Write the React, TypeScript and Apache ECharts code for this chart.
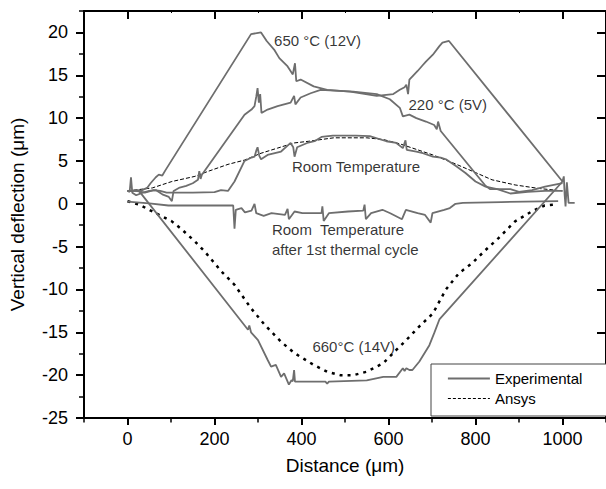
import React, { useEffect, useRef } from "react";
import * as echarts from "echarts";

// ---- Data (distance in µm, deflection in µm) ----
const exp650: number[][] = [
  [0, 1.5], [30, 1.5], [45, 1.85], [53, 2.4], [65, 3.1], [72, 3.4], [80, 3.3], [87, 3.9],
  [284, 19.8], [307, 20.0], [320, 19.0], [337, 18.0], [349, 17.0], [367, 16.1], [380, 15.1],
  [385, 16.4], [388, 14.3], [398, 14.5], [428, 13.7], [459, 13.3], [512, 13.1], [573, 12.6],
  [611, 12.8], [626, 13.3], [637, 13.6], [641, 13.9], [645, 12.8], [648, 14.5], [667, 15.5],
  [679, 16.2], [686, 16.6], [702, 17.4], [717, 18.4], [724, 18.8], [739, 19.0],
  [1000, 2.6], [1003, 3.2], [1005, 1.0], [1007, -0.3], [1010, 2.5], [1014, 0.1], [1028, 0.1],
];

const exp220: number[][] = [
  [0, 1.5], [5, 1.4], [8, 3.1], [11, 1.3], [20, 1.0], [35, 1.3], [50, 1.5], [65, 1.6],
  [80, 1.1], [95, 0.8], [102, 0.3], [106, 1.5], [120, 1.9], [135, 2.1], [150, 2.4],
  [162, 2.8], [165, 3.8], [168, 2.9], [171, 3.4], [269, 10.4], [285, 11.0], [292, 11.4],
  [296, 12.5], [299, 13.5], [302, 11.8], [305, 12.8], [308, 10.6], [322, 11.0], [345, 11.4],
  [375, 11.8], [383, 12.6], [386, 11.6], [398, 12.4], [421, 12.9], [444, 13.3], [519, 13.1],
  [573, 12.8], [603, 12.2], [626, 11.2], [633, 10.2], [648, 10.4], [664, 10.0], [686, 9.6],
  [705, 9.2], [711, 8.7], [714, 9.6], [720, 8.5], [823, 2.1], [834, 1.7], [880, 1.7],
  [900, 1.4], [930, 1.6], [960, 2.0], [1000, 2.4],
];

const expRoom: number[][] = [
  [0, 1.5], [20, 1.5], [40, 1.3], [60, 1.6], [75, 1.5], [90, 1.3], [106, 1.3], [150, 1.3],
  [200, 1.35], [215, 1.6], [231, 1.5], [246, 2.6], [269, 5.0], [285, 5.4], [292, 5.5],
  [296, 6.2], [299, 6.6], [303, 5.6], [307, 5.2], [322, 5.7], [353, 6.1], [375, 7.1],
  [381, 6.6], [384, 5.5], [390, 6.6], [413, 7.1], [430, 7.3], [446, 7.8], [472, 7.95],
  [525, 7.95], [557, 7.9], [595, 7.3], [618, 7.1], [633, 6.5], [639, 7.4], [642, 6.3],
  [664, 6.1], [679, 5.9], [702, 5.5], [720, 5.4], [732, 5.2], [755, 4.4], [777, 3.6],
  [800, 2.6], [823, 2.0], [850, 1.7], [880, 1.2], [920, 1.4], [960, 1.5], [1000, 1.5],
];

const ansysRoom: number[][] = [
  [0, 1.5], [57, 1.85], [102, 2.6], [155, 3.2], [186, 3.8], [231, 4.6], [269, 5.1],
  [307, 5.9], [345, 6.5], [383, 7.1], [417, 7.3], [474, 7.7], [550, 7.7], [588, 7.5],
  [626, 7.0], [702, 5.7], [747, 4.8], [793, 3.8], [838, 2.8], [891, 2.2], [944, 1.8],
  [1000, 1.5],
];

const expAfterCycle: number[][] = [
  [0, 0.25], [50, 0.05], [94, -0.2], [243, -0.2], [246, -2.9], [249, -0.7], [262, -0.5],
  [270, -1.0], [285, -0.8], [292, 0.0], [296, -1.1], [313, -1.4], [331, -1.1], [362, -1.3],
  [368, -0.6], [371, -1.8], [384, -0.9], [402, -1.1], [446, -1.1], [448, -0.3], [451, -2.0],
  [463, -1.1], [507, -0.9], [542, -0.8], [545, -0.1], [548, -1.8], [560, -1.1], [586, -0.7],
  [604, -1.1], [631, -1.8], [640, -0.7], [667, -1.1], [684, -1.3], [697, -2.2], [701, -1.1],
  [728, -0.7], [741, -0.5], [754, 0.0], [771, 0.1], [859, 0.2], [990, 0.3],
];

const exp660: number[][] = [
  [0, 1.5], [25, 1.6], [277, -14.7], [280, -14.2], [284, -15.0], [300, -15.9], [322, -18.2],
  [330, -19.0], [341, -18.8], [353, -20.2], [360, -19.8], [371, -21.1], [377, -20.6],
  [380, -20.7], [383, -19.4], [385, -20.75], [455, -20.75], [459, -21.0], [463, -20.75],
  [550, -20.6], [588, -20.2], [618, -20.2], [633, -19.2], [637, -19.5], [641, -19.2],
  [648, -19.4], [655, -19.4], [671, -18.4], [694, -16.5], [705, -15.1], [717, -13.5],
  [1000, 2.6],
];

const ansys660: number[][] = [
  [0, 0.3], [27, -0.1], [64, -1.07], [102, -2.05], [125, -3.0], [155, -4.4], [178, -5.6],
  [216, -7.9], [246, -9.45], [284, -12.2], [315, -14.1], [353, -16.1], [383, -17.4],
  [428, -18.8], [459, -19.6], [489, -20.0], [519, -20.0], [550, -19.6], [588, -18.6],
  [618, -17.05], [641, -15.9], [671, -14.3], [702, -12.8], [732, -10.0], [762, -8.1],
  [793, -6.9], [823, -5.4], [853, -4.0], [891, -2.05], [929, -0.9], [959, -0.2], [980, -0.1],
];

const annotationTexts = [
  "650 °C (12V)",
  "220 °C (5V)",
  "Room Temperature",
  "Room  Temperature",
  "after 1st thermal cycle",
  "660°C (14V)",
];
const annotationAnchors: number[][] = [
  [337, 19.0], [646, 11.6], [378, 4.34], [332, -3.0], [332, -5.36], [425, -16.7],
];

const xMajorTicks = [0, 200, 400, 600, 800, 1000];
const xMinorTicks = [-100, 100, 300, 500, 700, 900, 1100];
const yMajorTicks = [-25, -20, -15, -10, -5, 0, 5, 10, 15, 20];
const yMinorTicks = [-22.5, -17.5, -12.5, -7.5, -2.5, 2.5, 7.5, 12.5, 17.5, 22.5];

const X_MIN = -100;
const X_MAX = 1100;
const Y_MIN = -25;
const Y_MAX = 22.5;

const FONT = "'Liberation Sans', Arial, Helvetica, sans-serif";
const EXP_COLOR = "#6e6e6e";

export default function App() {
  const ref = useRef<HTMLDivElement>(null);

  useEffect(() => {
    document.body.style.margin = "0";
    if (!ref.current) return;
    const chart = echarts.init(ref.current, undefined, { renderer: "svg" });

    const axisLineStyle = { color: "#000", width: 2 };
    const hiddenLabel = { show: false };
    const noSplit = { show: false };
    const plainNumber = (v: number) => String(v);

    const expLine = (data: number[][]) => ({
      type: "line",
      name: "Experimental",
      data,
      showSymbol: false,
      symbol: "none",
      lineStyle: { color: EXP_COLOR, width: 1.8 },
      itemStyle: { color: EXP_COLOR },
      z: 3,
    });

    const option: any = {
      animation: false,
      backgroundColor: "#fff",
      grid: { left: 82, top: 11, width: 526, height: 407, containLabel: false },
      xAxis: [
        {
          type: "value",
          position: "bottom",
          min: X_MIN,
          max: X_MAX,
          axisLine: { onZero: false, lineStyle: axisLineStyle },
          axisTick: { customValues: xMajorTicks, length: 7, lineStyle: { color: "#000", width: 2 } },
          axisLabel: { customValues: xMajorTicks, formatter: plainNumber, fontSize: 18, color: "#000", margin: 12, fontFamily: FONT },
          splitLine: noSplit,
          name: "Distance (μm)",
          nameLocation: "middle",
          nameGap: 38,
          nameTextStyle: { fontSize: 19, color: "#000", fontFamily: FONT },
        },
        {
          type: "value",
          position: "bottom",
          min: X_MIN,
          max: X_MAX,
          axisLine: { show: false, onZero: false },
          axisTick: { customValues: xMinorTicks, length: 4.5, lineStyle: { color: "#000", width: 1.5 } },
          axisLabel: hiddenLabel,
          splitLine: noSplit,
        },
        {
          type: "value",
          position: "top",
          min: X_MIN,
          max: X_MAX,
          axisLine: { onZero: false, lineStyle: axisLineStyle },
          axisTick: { customValues: xMajorTicks, inside: true, length: 8, lineStyle: { color: "#000", width: 2 } },
          axisLabel: hiddenLabel,
          splitLine: noSplit,
        },
        {
          type: "value",
          position: "top",
          min: X_MIN,
          max: X_MAX,
          axisLine: { show: false, onZero: false },
          axisTick: { customValues: xMinorTicks, inside: true, length: 2, lineStyle: { color: "#000", width: 1 } },
          axisLabel: hiddenLabel,
          splitLine: noSplit,
        },
      ],
      yAxis: [
        {
          type: "value",
          position: "left",
          min: Y_MIN,
          max: Y_MAX,
          axisLine: { onZero: false, lineStyle: axisLineStyle },
          axisTick: { customValues: yMajorTicks, length: 8, lineStyle: { color: "#000", width: 2 } },
          axisLabel: { customValues: yMajorTicks, formatter: plainNumber, fontSize: 18, color: "#000", margin: 16, fontFamily: FONT },
          splitLine: noSplit,
          name: "Vertical deflection (μm)",
          nameLocation: "middle",
          nameGap: 57,
          nameTextStyle: { fontSize: 19, color: "#000", fontFamily: FONT },
        },
        {
          type: "value",
          position: "left",
          min: Y_MIN,
          max: Y_MAX,
          axisLine: { show: false, onZero: false },
          axisTick: { customValues: yMinorTicks, length: 5, lineStyle: { color: "#000", width: 1.5 } },
          axisLabel: hiddenLabel,
          splitLine: noSplit,
        },
        {
          type: "value",
          position: "right",
          min: Y_MIN,
          max: Y_MAX,
          axisLine: { onZero: false, lineStyle: axisLineStyle },
          axisTick: { customValues: yMajorTicks, inside: true, length: 9, lineStyle: { color: "#000", width: 2 } },
          axisLabel: hiddenLabel,
          splitLine: noSplit,
        },
      ],
      legend: {
        data: [
          {
            name: "Experimental",
            itemStyle: { opacity: 0, color: "transparent", borderWidth: 0 },
            lineStyle: { color: EXP_COLOR, width: 1.8, type: "solid" },
          },
          {
            name: "Ansys",
            itemStyle: { opacity: 0, color: "transparent", borderWidth: 0 },
            lineStyle: { color: "#000", width: 1, type: [3, 2] },
          },
        ],
        left: 431,
        top: 364,
        orient: "vertical",
        padding: [7, 40, 10, 16],
        itemWidth: 42,
        itemHeight: 14,
        itemGap: 5,
        borderColor: "#444",
        borderWidth: 1,
        backgroundColor: "#fff",
        itemStyle: { opacity: 0, color: "transparent", borderWidth: 0 },
        textStyle: { fontSize: 15, color: "#000", fontFamily: FONT },
        selectedMode: false,
      },
      series: [
        {
          type: "line",
          name: "Ansys",
          data: ansysRoom,
          showSymbol: false,
          symbol: "none",
          lineStyle: { color: "#000", width: 1, type: [4, 2] },
          itemStyle: { color: "#000" },
          z: 2,
        },
        {
          type: "line",
          name: "Ansys",
          data: ansys660,
          showSymbol: false,
          symbol: "none",
          lineStyle: { color: "#000", width: 2.5, type: [3, 5] },
          itemStyle: { color: "#000" },
          z: 2,
        },
        expLine(exp650),
        expLine(exp220),
        expLine(expRoom),
        expLine(expAfterCycle),
        expLine(exp660),
        {
          type: "scatter",
          name: "annotations",
          symbolSize: 0,
          silent: true,
          z: 5,
          data: annotationAnchors.map((p, i) => ({ value: p, name: annotationTexts[i] })),
          label: {
            show: true,
            position: "right",
            distance: 0,
            formatter: "{b}",
            fontSize: 15,
            color: "#000",
            fontFamily: FONT,
          },
        },
      ],
    };

    chart.setOption(option);
    return () => chart.dispose();
  }, []);

  return <div ref={ref} style={{ width: 606, height: 489 }} />;
}
